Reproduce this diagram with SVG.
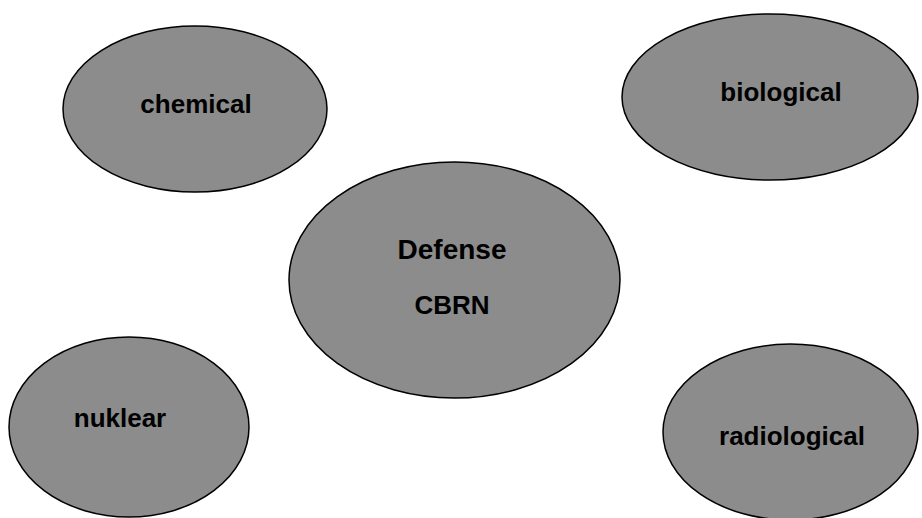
<svg xmlns="http://www.w3.org/2000/svg" width="922" height="518" viewBox="0 0 922 518">
<style>
.n{fill:#8c8c8c;stroke:#000;stroke-width:1.5}
.t{font-family:"Liberation Sans",Arial,sans-serif;font-weight:bold;font-size:26px;fill:#000;text-anchor:middle}
</style>
<rect width="922" height="518" fill="#fff"/>
<g id="connectors"></g>
<g id="chemical"><ellipse class="n" cx="195" cy="109" rx="132" ry="83"/><text class="t" x="196" y="113">chemical</text></g>
<g id="biological"><ellipse class="n" cx="770" cy="97" rx="148" ry="83"/><text class="t" x="781" y="101">biological</text></g>
<g id="defense"><ellipse class="n" cx="454.5" cy="280" rx="165.5" ry="118"/><text class="t" x="452" y="259" style="font-size:28px">Defense</text><text class="t" x="452" y="314">CBRN</text></g>
<g id="nuklear"><ellipse class="n" cx="129" cy="427" rx="120" ry="90"/><text class="t" x="120" y="427">nuklear</text></g>
<g id="radiological"><ellipse class="n" cx="790.5" cy="432" rx="127.5" ry="88"/><text class="t" x="792" y="445">radiological</text></g>
</svg>
